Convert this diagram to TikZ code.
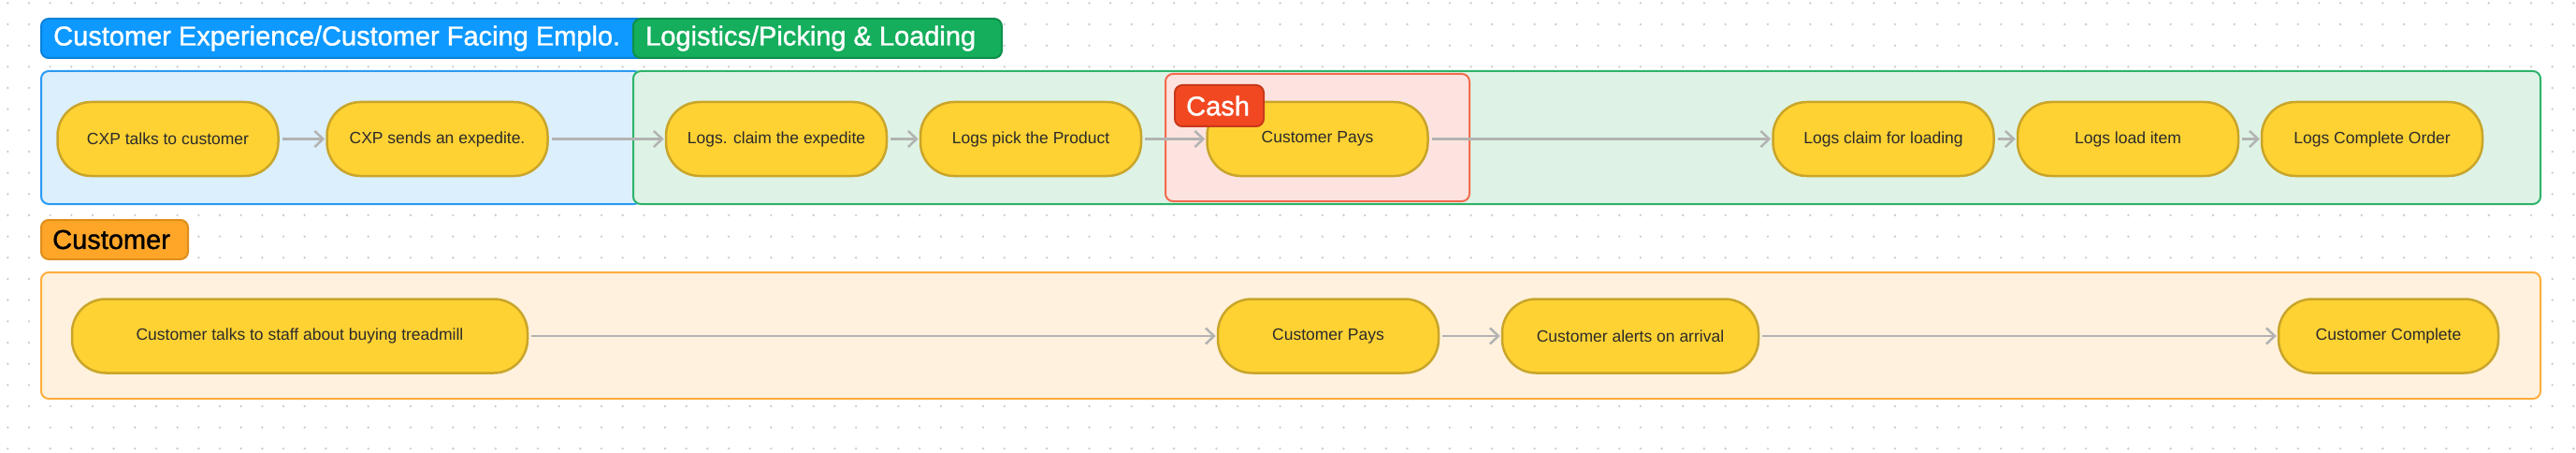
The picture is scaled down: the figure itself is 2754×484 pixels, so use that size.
\documentclass[tikz,border=0pt]{standalone}
\usepackage{fontspec}
\setmainfont{Liberation Sans}
\newfontfamily\hdrfont[FakeBold=1.2]{Liberation Sans}
\usetikzlibrary{arrows.meta}
\definecolor{dotc}{HTML}{CCCCCC}
\definecolor{bluefill}{HTML}{DBEFFC}
\definecolor{bluedraw}{HTML}{2B9BF4}
\definecolor{bluetag}{HTML}{0D99FF}
\definecolor{bluetagd}{HTML}{0A82DA}
\definecolor{greenfill}{HTML}{DEF3E5}
\definecolor{greendraw}{HTML}{2FB36A}
\definecolor{greentag}{HTML}{14AE5C}
\definecolor{greentagd}{HTML}{0E8F4A}
\definecolor{cashfill}{HTML}{FDE3DF}
\definecolor{cashdraw}{HTML}{F26B4E}
\definecolor{cashtag}{HTML}{F24822}
\definecolor{cashtagd}{HTML}{C9381A}
\definecolor{custfill}{HTML}{FFF1DD}
\definecolor{custdraw}{HTML}{FFAE3D}
\definecolor{custtag}{HTML}{FFA629}
\definecolor{custtagd}{HTML}{E08E1C}
\definecolor{nodefill}{HTML}{FFD233}
\definecolor{nodedraw}{HTML}{C9A52A}
\definecolor{nodetext}{HTML}{2B2B2B}
\definecolor{arrowc}{HTML}{B3B3B3}
\begin{document}
\begin{tikzpicture}[x=1pt,y=-1pt,
  panel/.style={line width=2pt,rounded corners=8pt},
  tag/.style={line width=2pt,rounded corners=8pt},
  tagtext/.style={anchor=west,inner sep=0pt,font=\hdrfont\fontsize{29}{34}\selectfont},
  stepbox/.style={draw=nodedraw,fill=nodefill,line width=2.5pt,rounded corners=36pt,
    minimum height=79pt,minimum width=236pt,inner sep=0pt,text=nodetext,
    font=\fontsize{17.5}{21}\selectfont},
  flow/.style={draw=arrowc,line width=2.5pt,shorten <=3pt,shorten >=1pt,
    -{Straight Barb[length=9pt,width=17pt,line width=2.5pt]}}
]
\useasboundingbox (0,0) rectangle (2754,484);
\fill[white] (0,0) rectangle (2754,484);
\foreach \i in {0,...,121}{
  \foreach \j in {0,...,21}{
    \fill[dotc] (8.3+\i*22.67,3.3+\j*22.67) circle (1.3pt);
  }
}
% panels
\filldraw[panel,fill=bluefill,draw=bluedraw] (44,76) rectangle (686,218);
\filldraw[panel,fill=greenfill,draw=greendraw] (677,76) rectangle (2716,218);
\filldraw[panel,fill=cashfill,draw=cashdraw] (1246,79) rectangle (1571,215);
\filldraw[panel,fill=custfill,draw=custdraw] (44,291) rectangle (2716,426);
% tags
\filldraw[tag,fill=bluetag,draw=bluetagd] (44,20) rectangle (690,62);
\node[tagtext,text=white] (tblue) at (57,41) {Customer Experience/Customer Facing Emplo.};
\filldraw[tag,fill=greentag,draw=greentagd] (677,20) rectangle (1071,62);
\node[tagtext,text=white] (tgreen) at (690,41) {Logistics/Picking \& Loading};
\filldraw[tag,fill=custtag,draw=custtagd] (44,235) rectangle (201,277);
\node[tagtext,text=black] (tcust) at (56,256) {Customer};
% row 1 nodes
\node[stepbox] (n1) at (179.5,148.5) {CXP talks to customer};
\node[stepbox] (n2) at (467.5,148.5) {CXP sends an expedite.};
\node[stepbox] (n3) at (830,148.5) {Logs. claim the expedite};
\node[stepbox] (n4) at (1102,148.5) {Logs pick the Product};
\node[stepbox] (n5) at (1408.5,148.5) {Customer Pays};
\node[stepbox] (n6) at (2013.5,148.5) {Logs claim for loading};
\node[stepbox] (n7) at (2275,148.5) {Logs load item};
\node[stepbox] (n8) at (2536,148.5) {Logs Complete Order};
% row 2 nodes
\node[stepbox,minimum width=487pt] (m1) at (320.5,359) {Customer talks to staff about buying treadmill};
\node[stepbox] (m2) at (1420,359) {Customer Pays};
\node[stepbox,minimum width=274pt] (m3) at (1743,359) {Customer alerts on arrival};
\node[stepbox,minimum width=235pt] (m4) at (2553.5,359) {Customer Complete};
% arrows
\draw[flow] (n1) -- (n2);
\draw[flow] (n2) -- (n3);
\draw[flow] (n3) -- (n4);
\draw[flow] (n4) -- (n5);
\draw[flow] (n5) -- (n6);
\draw[flow] (n6) -- (n7);
\draw[flow] (n7) -- (n8);
\draw[flow] (m1) -- (m2);
\draw[flow] (m2) -- (m3);
\draw[flow] (m3) -- (m4);
% cash tag
\filldraw[tag,fill=cashtag,draw=cashtagd] (1256,91) rectangle (1351,135);
\node[tagtext,text=white] (tcash) at (1268,113) {Cash};
\end{tikzpicture}
\end{document}
